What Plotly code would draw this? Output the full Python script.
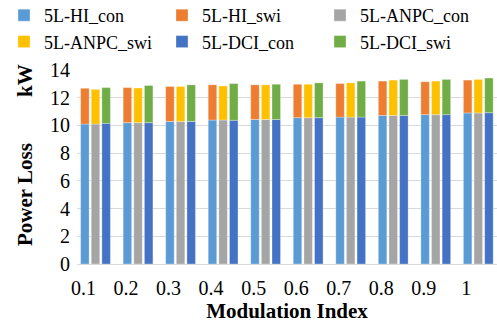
import plotly.graph_objects as go

mod_index = ["0.1", "0.2", "0.3", "0.4", "0.5", "0.6", "0.7", "0.8", "0.9", "1"]
hi_con = [10.10, 10.20, 10.29, 10.39, 10.43, 10.56, 10.60, 10.72, 10.78, 10.90]
hi_swi = [2.58, 2.53, 2.52, 2.54, 2.50, 2.41, 2.42, 2.48, 2.37, 2.37]
anpc_con = [10.10, 10.20, 10.29, 10.39, 10.43, 10.56, 10.60, 10.72, 10.78, 10.90]
anpc_swi = [2.50, 2.50, 2.52, 2.46, 2.50, 2.41, 2.47, 2.55, 2.42, 2.42]
dci_con = [10.15, 10.20, 10.29, 10.37, 10.43, 10.56, 10.60, 10.72, 10.78, 10.92]
dci_swi = [2.58, 2.68, 2.64, 2.65, 2.54, 2.51, 2.60, 2.60, 2.54, 2.50]
y_ticks = [0, 2, 4, 6, 8, 10, 12, 14]

xpos = list(range(1, len(mod_index) + 1))
font = "Times New Roman, Liberation Serif, serif"

fig = go.Figure()
series = [
    ("5L-HI_con", hi_con, None, "#5B9BD5", "hi"),
    ("5L-HI_swi", hi_swi, hi_con, "#ED7D31", "hi"),
    ("5L-ANPC_con", anpc_con, None, "#A5A5A5", "anpc"),
    ("5L-ANPC_swi", anpc_swi, anpc_con, "#FFC000", "anpc"),
    ("5L-DCI_con", dci_con, None, "#4472C4", "dci"),
    ("5L-DCI_swi", dci_swi, dci_con, "#70AD47", "dci"),
]
for name, vals, base, color, grp in series:
    fig.add_trace(go.Bar(
        x=xpos, y=vals, base=base, name=name, offsetgroup=grp,
        marker=dict(color=color, line=dict(color="rgba(255,255,255,0.5)", width=0.6)),
    ))

L, T, W, H = 77, 70, 420, 194

fig.update_layout(
    width=497, height=329,
    margin=dict(l=L, r=0, t=T, b=65, autoexpand=False),
    paper_bgcolor="white", plot_bgcolor="white",
    barmode="group", bargap=0.25, bargroupgap=0.2,
    font=dict(family=font, size=20, color="black"),
    legend=dict(
        orientation="h", xref="paper", yref="paper",
        x=(4 - L) / W, y=1 + (T + 3) / H, xanchor="left", yanchor="top",
        entrywidth=113, entrywidthmode="pixels",
        font=dict(family=font, size=18), itemwidth=30,
        traceorder="normal", bgcolor="rgba(0,0,0,0)",
    ),
    xaxis=dict(
        range=[0.565, 10.44], tickvals=xpos, ticktext=mod_index,
        showgrid=False, zeroline=False, showline=False, ticks="",
        ticklabelshift=-12, ticklabelstandoff=10, automargin=False,
        tickfont=dict(family=font, size=20),
        title=dict(text="<b>Modulation Index</b>", font=dict(family=font, size=21), standoff=5),
    ),
    yaxis=dict(
        range=[0, 14], tickvals=y_ticks, automargin=False,
        showgrid=True, gridcolor="#D9D9D9", gridwidth=1,
        zeroline=True, zerolinecolor="#D9D9D9", zerolinewidth=1,
        showline=False, ticks="", ticklabelstandoff=6,
        tickfont=dict(family=font, size=20),
    ),
    annotations=[
        dict(text="<b>kW</b>", xref="paper", yref="paper",
             x=(25 - L) / W, y=(264 - 81) / H, textangle=-90,
             showarrow=False, font=dict(family=font, size=21), xanchor="center", yanchor="middle"),
        dict(text="<b>Power Loss</b>", xref="paper", yref="paper",
             x=(25 - L) / W, y=(264 - 195) / H, textangle=-90,
             showarrow=False, font=dict(family=font, size=21), xanchor="center", yanchor="middle"),
    ],
)

fig.write_html("out.html", config={"displayModeBar": False},
               post_script="document.body.style.margin='0';")
